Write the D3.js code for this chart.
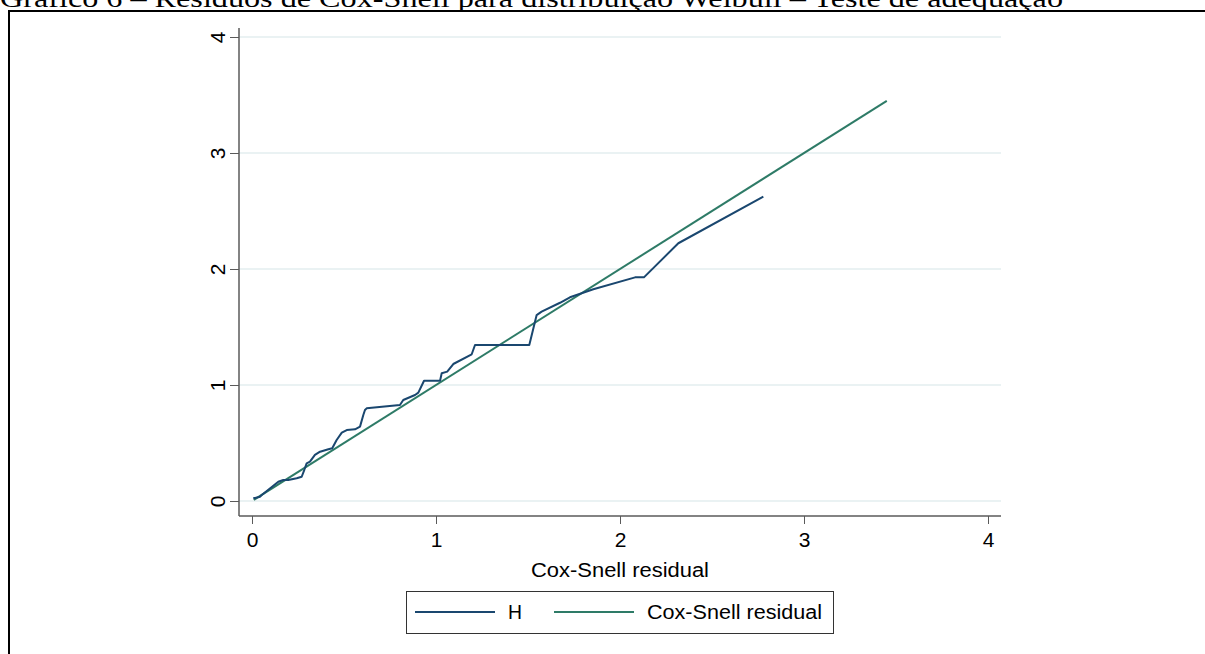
<!DOCTYPE html>
<html>
<head>
<meta charset="utf-8">
<script src="https://cdn.jsdelivr.net/npm/d3@7"></script>
<style>
  html, body { margin: 0; padding: 0; background: #fff; }
  svg { display: block; }
</style>
</head>
<body>
<svg id="chart" width="1205" height="654"></svg>
<script>
// Nelson–Aalen cumulative hazard (H) against Cox-Snell residuals
const residualH = [0.007, 0.043, 0.053, 0.143, 0.170, 0.197, 0.243, 0.270, 0.284, 0.297, 0.315, 0.342,
  0.370, 0.415, 0.436, 0.460, 0.488, 0.515, 0.560, 0.587, 0.605, 0.614, 0.623, 0.804, 0.822, 0.886,
  0.904, 0.935, 1.022, 1.031, 1.061, 1.094, 1.194, 1.212, 1.507, 1.547, 1.574, 1.674, 1.728, 1.855,
  2.082, 2.130, 2.317, 2.779];
const hazardH = [0.023, 0.037, 0.052, 0.166, 0.181, 0.181, 0.196, 0.209, 0.267, 0.325, 0.339, 0.397,
  0.425, 0.446, 0.454, 0.526, 0.589, 0.612, 0.618, 0.641, 0.741, 0.784, 0.799, 0.828, 0.871, 0.914,
  0.934, 1.037, 1.037, 1.101, 1.115, 1.181, 1.265, 1.345, 1.345, 1.603, 1.632, 1.709, 1.756, 1.825,
  1.928, 1.928, 2.222, 2.623];
// Reference line: residual plotted against itself
const residualRef = [0.01, 3.45];
const xTicks = [0, 1, 2, 3, 4];
const yTicks = [0, 1, 2, 3, 4];
const seriesNames = ["H", "Cox-Snell residual"];
const titleText = "Gráfico 6 – Resíduos de Cox-Snell para distribuição Weibull – Teste de adequação";
const xTitle = "Cox-Snell residual";

const colH = "#1a476f";
const colRef = "#2e7b67";
const gridCol = "#eaf2f3";
const axisCol = "#5a5a5a";
const sans = "'Liberation Sans', Arial, sans-serif";

const svg = d3.select("#chart");

// page title (runs off the top of the page) and frame
svg.append("text")
  .attr("x", 0).attr("y", 7)
  .attr("font-family", "'Liberation Serif', 'Times New Roman', serif")
  .attr("font-size", 25)
  .attr("fill", "#000")
  .attr("textLength", 1063)
  .attr("lengthAdjust", "spacingAndGlyphs")
  .text(titleText);
svg.append("path")
  .attr("d", "M9,654V11H1205")
  .attr("fill", "none").attr("stroke", "#000").attr("stroke-width", 2);

// plot region
const plot = { left: 239, right: 1001, top: 28, bottom: 516 };
const x = d3.scaleLinear().domain([0, 4]).range([252, 988]);
const y = d3.scaleLinear().domain([0, 4]).range([501, 37]);

// gridlines
svg.append("g").selectAll("line").data(yTicks).join("line")
  .attr("x1", plot.left).attr("x2", plot.right)
  .attr("y1", d => y(d)).attr("y2", d => y(d))
  .attr("stroke", gridCol).attr("stroke-width", 2);

// y axis
const yAxis = svg.append("g")
  .attr("transform", `translate(${plot.left},0)`)
  .call(d3.axisLeft(y).tickValues(yTicks).tickSize(9).tickPadding(5).tickFormat(d3.format("d")));
yAxis.select(".domain").remove();
yAxis.selectAll(".tick line").attr("stroke", axisCol);
yAxis.selectAll(".tick text")
  .attr("font-family", sans).attr("font-size", 21).attr("fill", "#000")
  .attr("text-anchor", "middle")
  .attr("x", null).attr("dy", null)
  .attr("transform", "translate(-14,0) rotate(-90)")
  .attr("y", 0);
svg.append("line")
  .attr("x1", plot.left).attr("x2", plot.left)
  .attr("y1", plot.top).attr("y2", plot.bottom)
  .attr("stroke", axisCol).attr("stroke-width", 1.5);

// x axis
const xAxis = svg.append("g")
  .attr("transform", `translate(0,${plot.bottom})`)
  .call(d3.axisBottom(x).tickValues(xTicks).tickSize(8).tickPadding(8).tickFormat(d3.format("d")));
xAxis.select(".domain").remove();
xAxis.selectAll(".tick line").attr("stroke", axisCol);
xAxis.selectAll(".tick text")
  .attr("font-family", sans).attr("font-size", 21).attr("fill", "#000");
svg.append("line")
  .attr("x1", plot.left).attr("x2", plot.right)
  .attr("y1", plot.bottom).attr("y2", plot.bottom)
  .attr("stroke", axisCol).attr("stroke-width", 1.5);

svg.append("text")
  .attr("x", (x(0) + x(4)) / 2).attr("y", 577)
  .attr("text-anchor", "middle")
  .attr("font-family", sans).attr("font-size", 20).attr("fill", "#000")
  .attr("textLength", 178).attr("lengthAdjust", "spacingAndGlyphs")
  .text(xTitle);

// series
const line = d3.line().x(d => x(d[0])).y(d => y(d[1]));
svg.append("path")
  .datum(residualRef.map(v => [v, v]))
  .attr("d", line)
  .attr("fill", "none").attr("stroke", colRef).attr("stroke-width", 2);
svg.append("path")
  .datum(residualH.map((v, i) => [v, hazardH[i]]))
  .attr("d", line)
  .attr("fill", "none").attr("stroke", colH).attr("stroke-width", 2)
  .attr("stroke-linejoin", "round");

// legend
const lg = svg.append("g");
lg.append("rect")
  .attr("x", 406.5).attr("y", 591.5).attr("width", 427).attr("height", 42)
  .attr("fill", "#fff").attr("stroke", "#333").attr("stroke-width", 1);
const items = [
  { name: seriesNames[0], color: colH, x1: 415, tx: 508, len: 14 },
  { name: seriesNames[1], color: colRef, x1: 554, tx: 647, len: 175 }
];
items.forEach(it => {
  lg.append("line")
    .attr("x1", it.x1).attr("x2", it.x1 + 80)
    .attr("y1", 612).attr("y2", 612)
    .attr("stroke", it.color).attr("stroke-width", 2);
  lg.append("text")
    .attr("x", it.tx).attr("y", 619)
    .attr("font-family", sans).attr("font-size", 20).attr("fill", "#000")
    .attr("textLength", it.len).attr("lengthAdjust", "spacingAndGlyphs")
    .text(it.name);
});
</script>
</body>
</html>
